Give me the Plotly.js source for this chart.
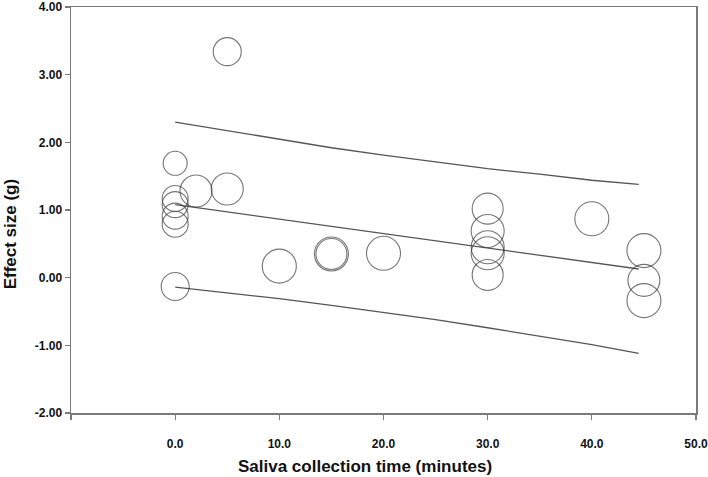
<!DOCTYPE html>
<html>
<head>
<meta charset="utf-8">
<script src="https://cdn.plot.ly/plotly-3.0.1.min.js"></script>
<style>html,body{margin:0;padding:0;background:#fff;}#chart{width:708px;height:477px;}</style>
</head>
<body>
<div id="chart"></div>
<script>
// Study points (saliva collection time, effect size g, study weight as marker diameter)
const studyTime = [5, 0, 2, 5, 0, 0, 0, 0, 0, 10, 15, 15, 20, 30, 30, 30, 30, 30, 40, 45, 45, 45];
const studyEffect = [3.34, 1.69, 1.28, 1.31, 1.17, 1.08, 0.91, 0.79, -0.13, 0.17, 0.35, 0.35, 0.36, 1.02, 0.69, 0.45, 0.36, 0.04, 0.87, 0.40, -0.04, -0.34];
const studyWeight = [28, 24, 32, 32, 26, 26, 26, 26, 28, 34, 34, 31, 34, 31, 33, 33, 33, 31, 34, 34, 32, 34];

// Regression line and confidence band read along x
const lineTime = [0, 5, 10, 15, 20, 25, 30, 35, 40, 44.5];
const fitValues = [1.08, 0.973, 0.866, 0.759, 0.652, 0.545, 0.438, 0.331, 0.224, 0.128];
const upperValues = [2.30, 2.17, 2.04, 1.92, 1.81, 1.71, 1.61, 1.53, 1.44, 1.38];
const lowerValues = [-0.14, -0.22, -0.31, -0.41, -0.51, -0.62, -0.74, -0.86, -0.99, -1.12];

const xTickVals = [-10, 0, 10, 20, 30, 40, 50];
const xTickText = ['', '0.0', '10.0', '20.0', '30.0', '40.0', '50.0'];
const yTickVals = [-2, -1, 0, 1, 2, 3, 4];
const yTickText = ['-2.00', '-1.00', '0.00', '1.00', '2.00', '3.00', '4.00'];
const xTitle = 'Saliva collection time (minutes)';
const yTitle = 'Effect size (g)';

const lineStyle = {color: '#555555', width: 1.3};
const traces = [
  {x: lineTime, y: upperValues, mode: 'lines', line: lineStyle, hoverinfo: 'skip'},
  {x: lineTime, y: fitValues, mode: 'lines', line: lineStyle, hoverinfo: 'skip'},
  {x: lineTime, y: lowerValues, mode: 'lines', line: lineStyle, hoverinfo: 'skip'},
  {x: studyTime, y: studyEffect, mode: 'markers',
   marker: {symbol: 'circle-open', size: studyWeight, color: '#3a3a3a', line: {width: 1.1, color: '#3a3a3a'}}}
];

const tickFont = {family: 'Liberation Sans, Arial, sans-serif', size: 12, color: '#111', weight: 'bold'};
const titleFont = {family: 'Liberation Sans, Arial, sans-serif', size: 17, color: '#111', weight: 'bold'};

const layout = {
  width: 708, height: 477,
  margin: {l: 71, r: 12, t: 7, b: 64},
  paper_bgcolor: '#fff', plot_bgcolor: '#fff',
  showlegend: false,
  xaxis: {
    range: [-10, 50], tickvals: xTickVals, ticktext: xTickText,
    showgrid: false, zeroline: false,
    showline: true, linecolor: '#7a7a7a', linewidth: 1.5, mirror: true,
    ticks: 'outside', ticklen: 5, tickcolor: '#7a7a7a', tickwidth: 1.2,
    ticklabelstandoff: 14,
    ticklabeloverflow: 'allow',
    tickfont: tickFont
  },
  yaxis: {
    range: [-2, 4], tickvals: yTickVals, ticktext: yTickText,
    showgrid: false, zeroline: false,
    showline: true, linecolor: '#7a7a7a', linewidth: 1.5, mirror: true,
    ticks: 'outside', ticklen: 5, tickcolor: '#7a7a7a', tickwidth: 1.2,
    ticklabeloverflow: 'allow',
    tickfont: tickFont
  },
  annotations: [
    {text: xTitle, xref: 'paper', yref: 'paper', x: 0.47, y: 0, xanchor: 'center', yanchor: 'middle',
     yshift: -53, showarrow: false, font: titleFont},
    {text: yTitle, xref: 'paper', yref: 'paper', x: 0, y: 0.44, xanchor: 'center', yanchor: 'middle',
     xshift: -61, textangle: -90, showarrow: false, font: titleFont}
  ]
};

Plotly.newPlot('chart', traces, layout, {displayModeBar: false, staticPlot: true});
</script>
</body>
</html>
